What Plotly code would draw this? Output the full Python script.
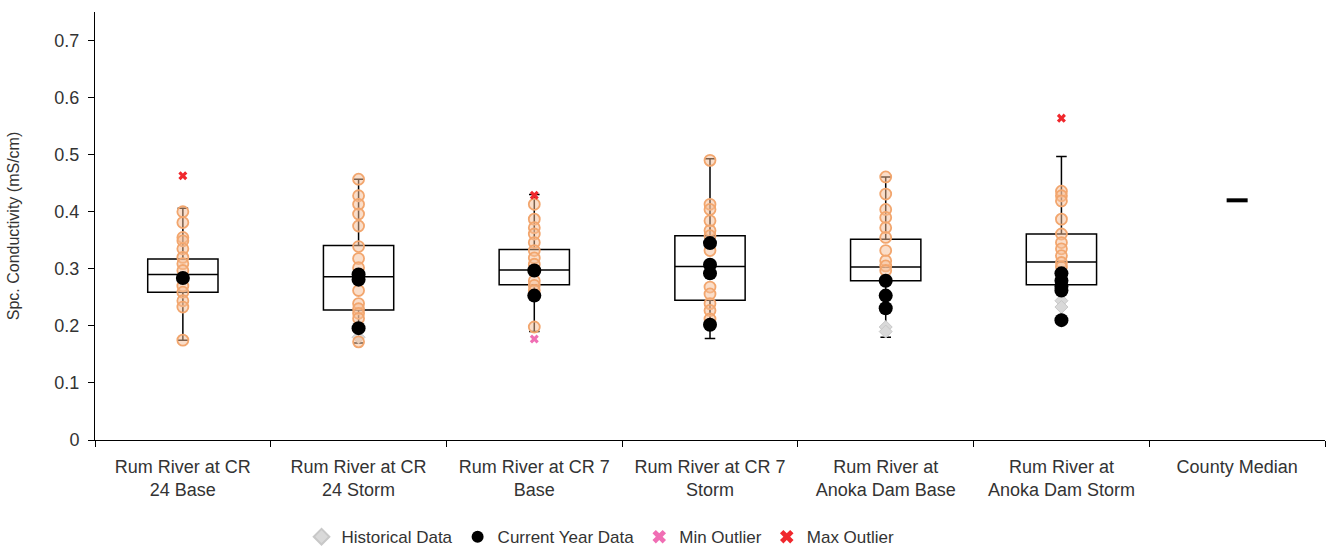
import plotly.graph_objects as go

categories = ["Rum River at CR<br>24 Base", "Rum River at CR<br>24 Storm", "Rum River at CR 7<br>Base",
              "Rum River at CR 7<br>Storm", "Rum River at<br>Anoka Dam Base", "Rum River at<br>Anoka Dam Storm",
              "County Median"]
box_sites = categories[:6]

lower = [0.175, 0.170, 0.190, 0.178, 0.180, 0.205]
q1 = [0.259, 0.228, 0.272, 0.245, 0.279, 0.272]
median = [0.290, 0.286, 0.298, 0.304, 0.303, 0.312]
q3 = [0.317, 0.341, 0.334, 0.358, 0.352, 0.361]
upper = [0.406, 0.457, 0.430, 0.493, 0.461, 0.497]

# orange historical points per site
hist_orange = {
    0: [0.400, 0.381, 0.355, 0.349, 0.335, 0.320, 0.309, 0.297, 0.270, 0.259, 0.244, 0.233, 0.175],
    1: [0.457, 0.428, 0.413, 0.396, 0.375, 0.339, 0.318, 0.302, 0.262, 0.239, 0.230, 0.222, 0.213, 0.172],
    2: [0.413, 0.387, 0.372, 0.361, 0.346, 0.332, 0.319, 0.308, 0.279, 0.271, 0.262, 0.198],
    3: [0.490, 0.413, 0.404, 0.384, 0.367, 0.358, 0.332, 0.268, 0.256, 0.239, 0.227, 0.212],
    4: [0.461, 0.431, 0.404, 0.390, 0.372, 0.355, 0.332, 0.314, 0.305, 0.297],
    5: [0.436, 0.428, 0.419, 0.387, 0.361, 0.346, 0.335, 0.323, 0.311, 0.303],
}
# visible grey historical points
hist_grey = {
    1: [0.180],
    4: [0.198, 0.190],
    5: [0.244, 0.233],
}
current = {
    0: [0.284],
    1: [0.290, 0.281, 0.196],
    2: [0.297, 0.253],
    3: [0.345, 0.307, 0.292, 0.202],
    4: [0.279, 0.253, 0.231],
    5: [0.292, 0.279, 0.269, 0.262, 0.210],
}
min_outlier = {2: [0.177]}
max_outlier = {0: [0.463], 2: [0.429], 5: [0.564]}
county_median = [0.42]


def flat(d):
    xs, ys = [], []
    for k, vals in d.items():
        for v in vals:
            xs.append(categories[k])
            ys.append(v)
    return xs, ys


fig = go.Figure()

fig.add_trace(go.Box(
    x=box_sites, q1=q1, median=median, q3=q3, lowerfence=lower, upperfence=upper,
    width=0.4,
    fillcolor="white", line=dict(color="black", width=1.5), whiskerwidth=0.15,
    boxpoints=False, showlegend=False, hoverinfo="skip"))

gx, gy = flat(hist_grey)
fig.add_trace(go.Scatter(x=gx, y=gy, mode="markers", name="Historical Data",
                         marker=dict(symbol="diamond", size=10, color="#D9D9D9",
                                     line=dict(color="#C8C8C8", width=1))))

ox, oy = flat(hist_orange)
fig.add_trace(go.Scatter(x=ox, y=oy, mode="markers", showlegend=False,
                         marker=dict(symbol="circle", size=11, color="rgba(246,190,150,0.5)",
                                     line=dict(color="#F2A66E", width=1.8))))

cx, cy = flat(current)
fig.add_trace(go.Scatter(x=cx, y=cy, mode="markers", name="Current Year Data",
                         marker=dict(symbol="circle", size=14, color="black")))

mnx, mny = flat(min_outlier)
fig.add_trace(go.Scatter(x=mnx, y=mny, mode="markers", name="Min Outlier",
                         marker=dict(symbol="x", size=8, color="#F06EB4")))

mxx, mxy = flat(max_outlier)
fig.add_trace(go.Scatter(x=mxx, y=mxy, mode="markers", name="Max Outlier",
                         marker=dict(symbol="x", size=8, color="#F0282D")))

fig.add_trace(go.Scatter(x=[categories[6]], y=county_median, mode="markers", showlegend=False,
                         marker=dict(symbol="line-ew", size=15, line=dict(color="black", width=4))))

font_family = "Liberation Sans, Arial, sans-serif"
fig.update_layout(
    width=1328, height=546,
    margin=dict(l=95, r=3, t=12, b=106, autoexpand=False),
    paper_bgcolor="white", plot_bgcolor="white",
    font=dict(family=font_family, color="#333333"),
    boxmode="overlay",
    showlegend=True,
    legend=dict(orientation="h", x=0.411, xanchor="center", y=-0.227, yanchor="middle",
                font=dict(size=17, color="#333333"), itemwidth=30, tracegroupgap=0,
                itemsizing="constant"),
    xaxis=dict(type="category", categoryorder="array", categoryarray=categories,
               range=[-0.5, 6.5], showline=True, linecolor="black", linewidth=1,
               ticks="outside", ticklen=6, tickcolor="black", tickson="boundaries",
               ticklabelstandoff=10, automargin=False,
               showgrid=False, tickfont=dict(size=18, color="#333333")),
    yaxis=dict(range=[0, 0.75], dtick=0.1, tick0=0, showline=True, linecolor="black", linewidth=1,
               ticks="outside", ticklen=6, tickcolor="black", showgrid=False, zeroline=False,
               automargin=False, ticklabelstandoff=5,
               tickfont=dict(size=18, color="#333333"),
               title=dict(text="Spc. Conductivity (mS/cm)", font=dict(size=16, color="#333333"),
                          standoff=30)),
)

fig.write_html("out.html")
